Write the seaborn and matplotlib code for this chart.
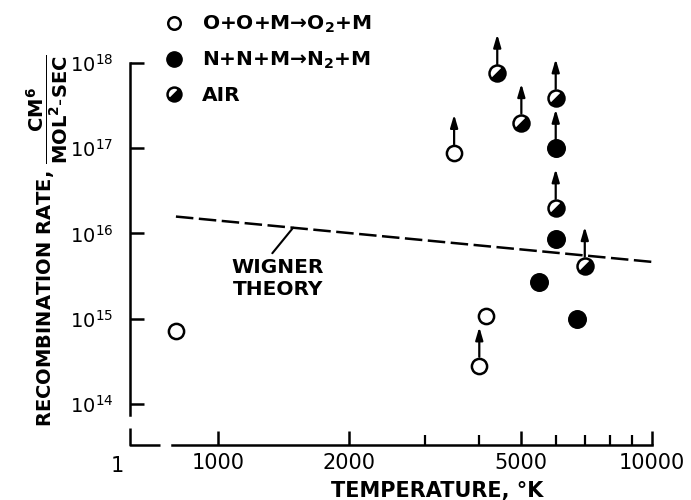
import matplotlib
matplotlib.use("Agg")
import matplotlib.pyplot as plt
import seaborn as sns
from matplotlib.markers import MarkerStyle
from matplotlib.transforms import Affine2D, offset_copy, blended_transform_factory
from matplotlib.lines import Line2D

# values
o_temp = [800, 3500, 4150, 4000]
o_rate = [7.2e14, 8.7e16, 1.08e15, 2.8e14]
o_lower = [False, True, False, True]

n_temp = [6000, 6000, 5500, 6700]
n_rate = [1.0e17, 8.7e15, 2.7e15, 1.0e15]
n_lower = [True, False, False, False]

air_temp = [4400, 5000, 6000, 6000, 7000]
air_rate = [7.6e17, 2.0e17, 3.9e17, 2.0e16, 4.2e15]
air_lower = [True, True, True, True, True]

wigner_temp = [800, 10200]
wigner_rate = [1.58e16, 4.6e15]

x_major = [1000, 2000, 5000, 10000]
x_major_labels = ["1000", "2000", "5000", "10000"]
x_minor = [3000, 4000, 6000, 7000, 8000, 9000]
y_major = [1e14, 1e15, 1e16, 1e17, 1e18]

sns.set_style("white")
plt.rcParams["font.family"] = ["DejaVu Sans"]
plt.rcParams["mathtext.fontset"] = "dejavusans"
plt.rcParams["text.color"] = "black"
plt.rcParams["axes.labelcolor"] = "black"

fig = plt.figure(figsize=(6.91, 5), dpi=100)
ax = fig.add_axes([130 / 691, 55 / 500, 522 / 691, 382 / 500])
ax.set_xscale("log")
ax.set_yscale("log")
ax.set_xlim(627, 10000)
ax.set_ylim(10 ** 13.519, 1e18)

# Wigner theory line
ax.plot(wigner_temp, wigner_rate, color="black", lw=1.8, dashes=(7, 2.2), zorder=2)

sns.scatterplot(x=o_temp, y=o_rate, ax=ax, s=120, marker="o", facecolor="white",
                edgecolor="black", linewidth=1.8, legend=False, zorder=4, clip_on=False)
sns.scatterplot(x=n_temp, y=n_rate, ax=ax, s=160, marker="o", facecolor="black",
                edgecolor="black", linewidth=1.0, legend=False, zorder=4, clip_on=False)

half = MarkerStyle("o", fillstyle="bottom", transform=Affine2D().rotate_deg(45))
ax.plot(air_temp, air_rate, ls="", marker=half, ms=11.5, mfc="black", mfcalt="white",
        mec="black", mew=1.8, zorder=4, clip_on=False)

# arrows marking lower bounds
base = offset_copy(ax.transData, fig=fig, x=0, y=6.5, units="points")
tip = offset_copy(ax.transData, fig=fig, x=0, y=28, units="points")
for temps, rates, flags in [(o_temp, o_rate, o_lower), (n_temp, n_rate, n_lower),
                            (air_temp, air_rate, air_lower)]:
    for t, r, f in zip(temps, rates, flags):
        if f:
            ax.annotate("", xy=(t, r), xycoords=tip, xytext=(t, r), textcoords=base,
                        arrowprops=dict(arrowstyle="-|>,head_length=0.75,head_width=0.22",
                                        lw=1.6, color="black", shrinkA=0, shrinkB=0),
                        annotation_clip=False)

ax.annotate("WIGNER\nTHEORY", xy=(1490, 1.17e16), xytext=(1375, 3.0e15),
            ha="center", va="center", fontsize=14.5, fontweight="bold", linespacing=1.2,
            arrowprops=dict(arrowstyle="-", lw=1.5, color="black",
                            relpos=(0.4, 1.0), shrinkA=1, shrinkB=0))

# axes styling
for side in ["top", "right"]:
    ax.spines[side].set_visible(False)
for side in ["left", "bottom"]:
    ax.spines[side].set_linewidth(1.8)
    ax.spines[side].set_color("black")
ax.spines["left"].set_bounds(10 ** 13.87, 1e18)
ax.spines["bottom"].set_bounds(783, 10000)

# broken start of the temperature axis
blend = blended_transform_factory(ax.transData, ax.transAxes)
ax.plot([627, 627, 735], [0.045, 0, 0], color="black", lw=1.8, transform=blend,
        clip_on=False, solid_capstyle="butt")
ax.text(-0.025, -0.03, "1", transform=ax.transAxes, ha="center", va="top", fontsize=15)

ax.set_xticks(x_major)
ax.set_xticklabels(x_major_labels)
ax.xaxis.set_minor_locator(matplotlib.ticker.FixedLocator(x_minor))
ax.xaxis.set_minor_formatter(matplotlib.ticker.NullFormatter())
ax.set_yticks(y_major)
ax.yaxis.set_minor_locator(matplotlib.ticker.NullLocator())
ax.tick_params(axis="both", which="both", left=True, bottom=True)
ax.tick_params(axis="both", which="major", direction="in", length=10, width=1.8,
               colors="black", labelsize=15)
ax.tick_params(axis="x", which="minor", direction="in", length=7, width=1.6, colors="black")
ax.tick_params(axis="x", which="major", pad=6)
ax.tick_params(axis="y", which="major", pad=12, labelsize=14)

ax.set_xlabel("TEMPERATURE, °K", fontsize=15, fontweight="bold")
ax.xaxis.set_label_coords(0.588, -0.095)
ax.set_ylabel(r"RECOMBINATION RATE, $\dfrac{\mathbf{CM}^{\mathbf{6}}}"
              r"{\mathbf{MOL}^{\mathbf{2}}\mathbf{\text{-}SEC}}$",
              fontsize=14, fontweight="bold")
ax.yaxis.set_label_coords(-0.115, 0.534)

handles = [
    Line2D([], [], ls="", marker="o", ms=9, mfc="white", mec="black", mew=1.8),
    Line2D([], [], ls="", marker="o", ms=11, mfc="black", mec="black"),
    Line2D([], [], ls="", marker=MarkerStyle("o", fillstyle="bottom",
                                              transform=Affine2D().rotate_deg(45)),
           ms=10, mfc="black", mfcalt="white", mec="black", mew=1.8),
]
labels = ["O+O+M→O$_\\mathbf{2}$+M", "N+N+M→N$_\\mathbf{2}$+M", "AIR"]
fig.legend(handles, labels, loc="upper left", bbox_to_anchor=(164 / 691, 0.972),
           frameon=False, prop=dict(size=14.5, weight="bold"), handlelength=1.0,
           handletextpad=0.9, labelspacing=0.72, borderpad=0, borderaxespad=0)

fig.savefig("out.png", dpi=100)
